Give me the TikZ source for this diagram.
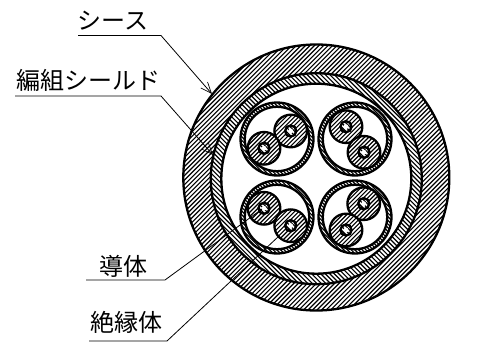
\documentclass[tikz,border=0pt]{standalone}
\usepackage{fontspec}
\setmainfont{Noto Sans CJK JP}
\usetikzlibrary{arrows.meta}
\tikzset{
  x=1pt,y=-1pt,
  hatchline/.style={line width=1.15pt,black},
  heavy/.style={line width=2.3pt,black},
  medium/.style={line width=1.6pt,black},
  leader/.style={line width=0.8pt,black},
  labeltext/.style={inner sep=0pt,font=\fontsize{24}{24}\selectfont,anchor=base},
  barb/.style={-{Straight Barb[length=11pt,width=9pt,line width=0.7pt]}}
}
% centre x, centre y, radius, angle, spacing
\newcommand{\hatchdisc}[5]{%
  \fill[white] (#1,#2) circle[radius=#3];
  \begin{scope}
    \clip (#1,#2) circle[radius=#3];
    \pgfmathsetmacro{\hstart}{-#3}
    \pgfmathsetmacro{\hnext}{-#3+#5}
    \foreach \d in {\hstart,\hnext,...,#3}{
      \draw[hatchline,shift={(#1,#2)},rotate=#4] (-#3,\d) -- (#3,\d);
    }
  \end{scope}
  \draw[heavy] (#1,#2) circle[radius=#3];
}
\newcommand{\wirecore}[2]{%
  \hatchdisc{#1}{#2}{16.3}{45}{3}
  \fill[white] (#1,#2) circle[radius=5.6];
  \hatchdisc{#1}{#2}{5.6}{-45}{3}
  \draw[medium] (#1,#2) circle[radius=5.6];
  \fill[white] (#1,#2) circle[radius=2.4];
}
% centre of sub-cable and the two wire centres
\newcommand{\paircable}[6]{%
  \hatchdisc{#1}{#2}{36.5}{-45}{2.6}
  \fill[white] (#1,#2) circle[radius=32.2];
  \draw[heavy] (#1,#2) circle[radius=32.2];
  \wirecore{#3}{#4}
  \wirecore{#5}{#6}
}
\begin{document}
\begin{tikzpicture}
\useasboundingbox (0,0) rectangle (477,348);
\fill[white] (0,0) rectangle (477,348);
\hatchdisc{316.3}{177.5}{133}{45}{3.2}
\hatchdisc{316.3}{178.7}{105.5}{-45}{3.2}
\fill[white] (316.3,178.7) circle[radius=95];
\draw[heavy] (316.3,178.7) circle[radius=95];
\paircable{277}{139}{290.7}{131}{264}{148.3}
\paircable{355}{139}{346}{126.7}{364}{152.3}
\paircable{277}{217}{264}{208.3}{290.7}{225.7}
\paircable{355}{217}{363.7}{203.7}{346}{230}

\node[labeltext] (sheath) at (113,29) {シース};
\node[labeltext] (braid) at (88.5,89) {編組シールド};
\node[labeltext] (cond) at (123,275) {導体};
\node[labeltext] (insul) at (126,331) {絶縁体};

\coordinate (s0) at (78,35.5);
\coordinate (s1) at (161,35.5);
\coordinate (s2) at (212,94);
\coordinate (b0) at (15,96);
\coordinate (b1) at (161,96);
\coordinate (b2) at (213,155);
\coordinate (c0) at (86,280);
\coordinate (c1) at (165,280);
\coordinate (c2) at (262,209);
\coordinate (i0) at (89,341);
\coordinate (i1) at (167,341);
\coordinate (i2) at (279,236);

\draw[leader,barb] (s0) -- (s1) -- (s2);
\draw[leader,barb] (b0) -- (b1) -- (b2);
\draw[leader] (c0) -- (c1) -- (c2);
\draw[leader] (i0) -- (i1) -- (i2);
\end{tikzpicture}
\end{document}
